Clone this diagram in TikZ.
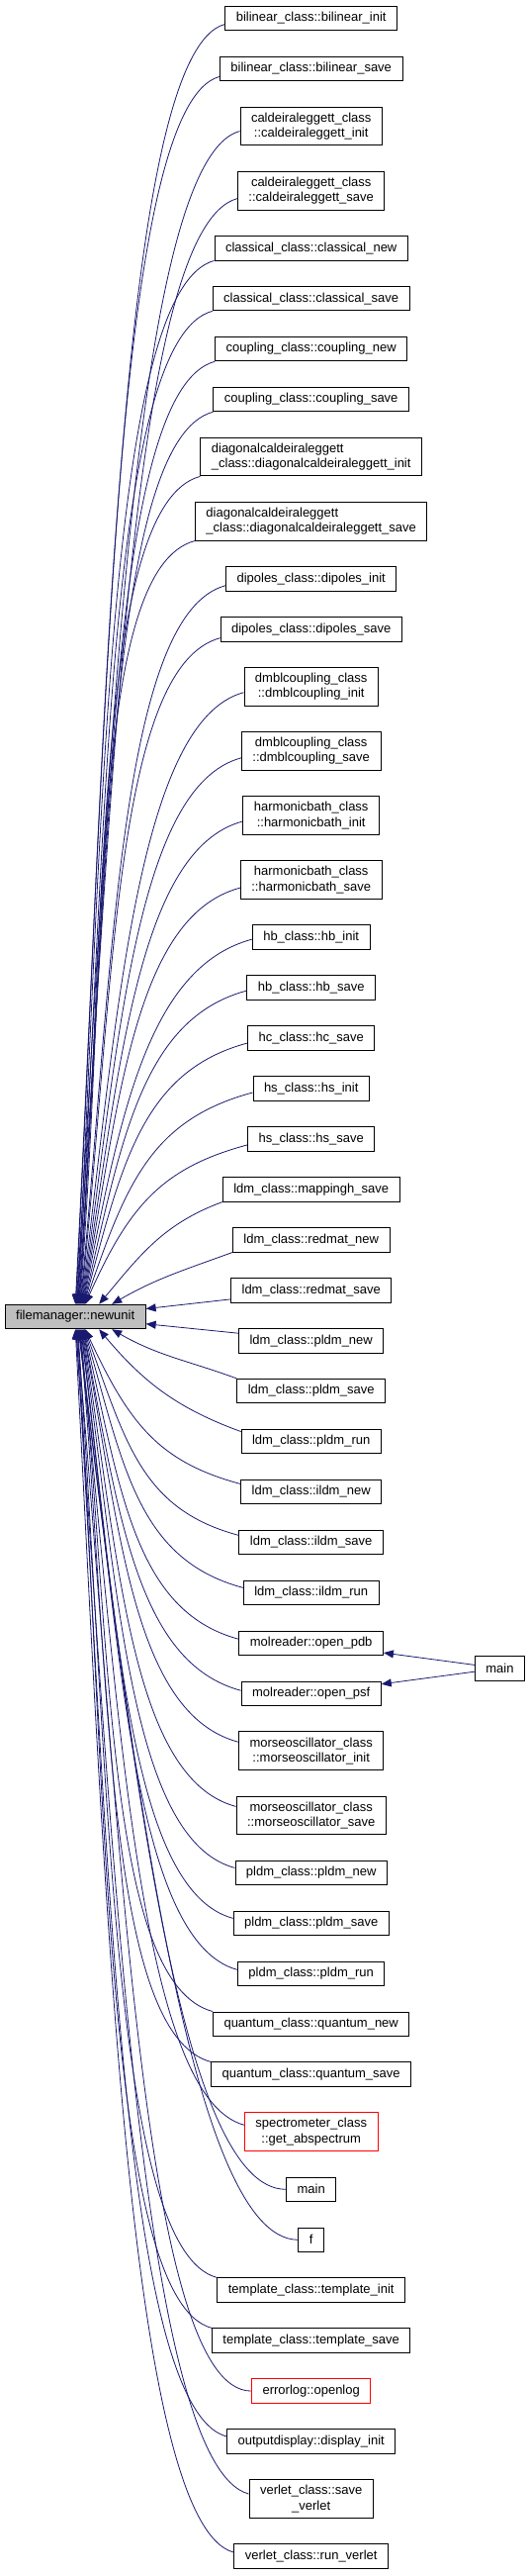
\documentclass[tikz,border=0pt]{standalone}
\usepackage{fontspec}
\setmainfont{Liberation Sans}
\usetikzlibrary{arrows.meta, positioning, calc}
\definecolor{edgeblue}{HTML}{191970}
\definecolor{rootgray}{HTML}{BFBFBF}

\begin{document}
\begin{tikzpicture}[
	x=.25pt, y=.25pt,
	node distance=6.36pt,
	callbox/.style={rectangle, draw=black, line width=.225pt, fill=white, minimum height=6.15pt, inner xsep=2.75pt, inner ysep=1pt, align=center, font=\fontsize{3.25}{3.825}\selectfont},
	twobox/.style={callbox, minimum height=9.7pt},
	rootbox/.style={callbox, fill=rootgray},
	callarrow/.style={{Triangle[length=2.5pt, width=2pt]}-, line width=.2pt, draw=edgeblue},
	fanup/.style={out=#1, in=195, out looseness=1.2, in looseness=1, in max distance=27.5pt},
	fandown/.style={out=-#1, in=165, out looseness=1.2, in looseness=1, in max distance=27.5pt}
	]
	\useasboundingbox (0,0) rectangle (535,-2603);
	% callers, top to bottom
	\node[callbox] (bilinit) at (314.7,-18.5) {bilinear\_class::bilinear\_init};
	\node[callbox, below=of bilinit] (bilsave) {bilinear\_class::bilinear\_save};
	\node[twobox, below=of bilsave] (calinit) {caldeiraleggett\_class\\::caldeiraleggett\_init};
	\node[twobox, below=of calinit] (calsave) {caldeiraleggett\_class\\::caldeiraleggett\_save};
	\node[callbox, below=of calsave] (clanew) {classical\_class::classical\_new};
	\node[callbox, below=of clanew] (clasave) {classical\_class::classical\_save};
	\node[callbox, below=of clasave] (coupnew) {coupling\_class::coupling\_new};
	\node[callbox, below=of coupnew] (coupsave) {coupling\_class::coupling\_save};
	\node[twobox, align=left, below=of coupsave] (diainit) {diagonalcaldeiraleggett\\\_class::diagonalcaldeiraleggett\_init};
	\node[twobox, align=left, below=of diainit] (diasave) {diagonalcaldeiraleggett\\\_class::diagonalcaldeiraleggett\_save};
	\node[callbox, below=of diasave] (dipinit) {dipoles\_class::dipoles\_init};
	\node[callbox, below=of dipinit] (dipsave) {dipoles\_class::dipoles\_save};
	\node[twobox, below=of dipsave] (dmbinit) {dmblcoupling\_class\\::dmblcoupling\_init};
	\node[twobox, below=of dmbinit] (dmbsave) {dmblcoupling\_class\\::dmblcoupling\_save};
	\node[twobox, below=of dmbsave] (harinit) {harmonicbath\_class\\::harmonicbath\_init};
	\node[twobox, below=of harinit] (harsave) {harmonicbath\_class\\::harmonicbath\_save};
	\node[callbox, below=of harsave] (hbinit) {hb\_class::hb\_init};
	\node[callbox, below=of hbinit] (hbsave) {hb\_class::hb\_save};
	\node[callbox, below=of hbsave] (hcsave) {hc\_class::hc\_save};
	\node[callbox, below=of hcsave] (hsinit) {hs\_class::hs\_init};
	\node[callbox, below=of hsinit] (hssave) {hs\_class::hs\_save};
	\node[callbox, below=of hssave] (mapsave) {ldm\_class::mappingh\_save};
	\node[callbox, below=of mapsave] (rednew) {ldm\_class::redmat\_new};
	\node[callbox, below=of rednew] (redsave) {ldm\_class::redmat\_save};
	\node[callbox, below=of redsave] (lpnew) {ldm\_class::pldm\_new};
	\node[callbox, below=of lpnew] (lpsave) {ldm\_class::pldm\_save};
	\node[callbox, below=of lpsave] (lprun) {ldm\_class::pldm\_run};
	\node[callbox, below=of lprun] (ilnew) {ldm\_class::ildm\_new};
	\node[callbox, below=of ilnew] (ilsave) {ldm\_class::ildm\_save};
	\node[callbox, below=of ilsave] (ilrun) {ldm\_class::ildm\_run};
	\node[callbox, below=of ilrun] (openpdb) {molreader::open\_pdb};
	\node[callbox, below=of openpdb] (openpsf) {molreader::open\_psf};
	\node[twobox, below=of openpsf] (morinit) {morseoscillator\_class\\::morseoscillator\_init};
	\node[twobox, below=of morinit] (morsave) {morseoscillator\_class\\::morseoscillator\_save};
	\node[callbox, below=of morsave] (pnew) {pldm\_class::pldm\_new};
	\node[callbox, below=of pnew] (psave) {pldm\_class::pldm\_save};
	\node[callbox, below=of psave] (prun) {pldm\_class::pldm\_run};
	\node[callbox, below=of prun] (quanew) {quantum\_class::quantum\_new};
	\node[callbox, below=of quanew] (quasave) {quantum\_class::quantum\_save};
	\node[twobox, draw=red, below=of quasave] (specabs) {spectrometer\_class\\::get\_abspectrum};
	\node[callbox, below=of specabs] (main) {main};
	\node[callbox, below=of main] (fnode) {f};
	\node[callbox, below=of fnode] (tplinit) {template\_class::template\_init};
	\node[callbox, below=of tplinit] (tplsave) {template\_class::template\_save};
	\node[callbox, draw=red, below=of tplsave] (errlog) {errorlog::openlog};
	\node[callbox, below=of errlog] (dspinit) {outputdisplay::display\_init};
	\node[twobox, below=of dspinit] (versave) {verlet\_class::save\\\_verlet};
	\node[callbox, below=of versave] (verrun) {verlet\_class::run\_verlet};
	% the called function and the caller of the readers
	\node[rootbox] (newunit) at (76.2,-1330.5) {filemanager::newunit};
	\coordinate (openmid) at ($(openpdb.east)!.5!(openpsf.east)$);
	\node[callbox, right=23.25pt of openmid] (mainrt) {main};
	% edges from above
	\draw[callarrow, fanup=87] ([shift={(0,0)}]newunit.north) to ([shift={(0,-6)}]bilinit.west);
	\draw[callarrow, fanup=87] ([shift={(.5,0)}]newunit.north) to ([shift={(0,-8)}]bilsave.west);
	\draw[callarrow, fanup=86.5] ([shift={(1,0)}]newunit.north) to ([shift={(0,-5)}]calinit.west);
	\draw[callarrow, fanup=86] ([shift={(1.5,0)}]newunit.north) to ([shift={(0,-8)}]calsave.west);
	\draw[callarrow, fanup=87] ([shift={(2,0)}]newunit.north) to (clanew.south west);
	\draw[callarrow, fanup=86.5] ([shift={(2.5,0)}]newunit.north) to (clasave.south west);
	\draw[callarrow, fanup=86] ([shift={(3,0)}]newunit.north) to (coupnew.south west);
	\draw[callarrow, fanup=86] ([shift={(3.5,0)}]newunit.north) to (coupsave.south west);
	\draw[callarrow, fanup=86] ([shift={(4,0)}]newunit.north) to (diainit.south west);
	\draw[callarrow, fanup=85.5] ([shift={(4.5,0)}]newunit.north) to (diasave.south west);
	\draw[callarrow, fanup=84.5] ([shift={(5,0)}]newunit.north) to ([shift={(0,-7)}]dipinit.west);
	\draw[callarrow, fanup=84] ([shift={(5.5,0)}]newunit.north) to ([shift={(0,-9)}]dipsave.west);
	\draw[callarrow, fanup=83] ([shift={(6,0)}]newunit.north) to ([shift={(0,-6)}]dmbinit.west);
	\draw[callarrow, fanup=82] ([shift={(6.5,0)}]newunit.north) to ([shift={(0,-7)}]dmbsave.west);
	\draw[callarrow, fanup=81] ([shift={(7,0)}]newunit.north) to ([shift={(0,-6)}]harinit.west);
	\draw[callarrow, fanup=80] ([shift={(7.5,0)}]newunit.north) to ([shift={(0,-8)}]harsave.west);
	\draw[callarrow, fanup=79] ([shift={(8,0)}]newunit.north) to ([shift={(0,-2)}]hbinit.west);
	\draw[callarrow, fanup=77] ([shift={(8.5,0)}]newunit.north) to ([shift={(0,-3)}]hbsave.west);
	\draw[callarrow, fanup=75] ([shift={(9,0)}]newunit.north) to ([shift={(0,-5)}]hcsave.west);
	\draw[callarrow, fanup=71] ([shift={(9.5,0)}]newunit.north) to ([shift={(0,-4)}]hsinit.west);
	\draw[callarrow, fanup=66] ([shift={(10,0)}]newunit.north) to ([shift={(0,-6)}]hssave.west);
	\draw[callarrow, out=50, in=200] ([shift={(24,0)}]newunit.north) to (mapsave.south west);
	\draw[callarrow, out=30, in=200] ([shift={(37,0)}]newunit.north) to (rednew.south west);
	% straight edges
	\draw[callarrow] (newunit) -- (redsave);
	\draw[callarrow] (newunit) -- (lpnew);
	% edges from below
	\draw[callarrow, out=-30, in=160] ([shift={(37,0)}]newunit.south) to (lpsave.north west);
	\draw[callarrow, out=-50, in=160] ([shift={(24,0)}]newunit.south) to ([shift={(0,10)}]lprun.west);
	\draw[callarrow, fandown=65] ([shift={(10,0)}]newunit.south) to ([shift={(0,8)}]ilnew.west);
	\draw[callarrow, fandown=70] ([shift={(9.5,0)}]newunit.south) to ([shift={(0,7)}]ilsave.west);
	\draw[callarrow, fandown=74] ([shift={(9,0)}]newunit.south) to ([shift={(0,5)}]ilrun.west);
	\draw[callarrow, fandown=77] ([shift={(8.5,0)}]newunit.south) to ([shift={(0,4)}]openpdb.west);
	\draw[callarrow, fandown=79] ([shift={(8,0)}]newunit.south) to ([shift={(0,3)}]openpsf.west);
	\draw[callarrow, fandown=79.5] ([shift={(7.5,0)}]newunit.south) to ([shift={(0,9)}]morinit.west);
	\draw[callarrow, fandown=81] ([shift={(7,0)}]newunit.south) to ([shift={(0,9)}]morsave.west);
	\draw[callarrow, fandown=82] ([shift={(6.5,0)}]newunit.south) to ([shift={(0,5)}]pnew.west);
	\draw[callarrow, fandown=83] ([shift={(6,0)}]newunit.south) to ([shift={(0,5)}]psave.west);
	\draw[callarrow, fandown=83] ([shift={(5.5,0)}]newunit.south) to ([shift={(0,4)}]prun.west);
	\draw[callarrow, fandown=84.5] ([shift={(5,0)}]newunit.south) to (quanew.north west);
	\draw[callarrow, fandown=85] ([shift={(4.5,0)}]newunit.south) to (quasave.north west);
	\draw[callarrow, fandown=84] ([shift={(4,0)}]newunit.south) to ([shift={(0,7)}]specabs.west);
	\draw[callarrow, fandown=83, in=180] ([shift={(3.5,0)}]newunit.south) to (main.west);
	\draw[callarrow, fandown=83, in=180] ([shift={(3,0)}]newunit.south) to (fnode.west);
	\draw[callarrow, fandown=86] ([shift={(2.5,0)}]newunit.south) to (tplinit.north west);
	\draw[callarrow, fandown=86.5] ([shift={(2,0)}]newunit.south) to (tplsave.north west);
	\draw[callarrow, fandown=85, in=180] ([shift={(1.5,0)}]newunit.south) to (errlog.west);
	\draw[callarrow, fandown=86.5] ([shift={(1,0)}]newunit.south) to ([shift={(0,5)}]dspinit.west);
	\draw[callarrow, fandown=86] ([shift={(.5,0)}]newunit.south) to ([shift={(0,5)}]versave.west);
	\draw[callarrow, fandown=87] ([shift={(0,0)}]newunit.south) to ([shift={(0,4)}]verrun.west);
	% main calls the two readers
	\draw[callarrow] (openpdb) -- (mainrt);
	\draw[callarrow] (openpsf) -- (mainrt);
\end{tikzpicture}
\end{document}
